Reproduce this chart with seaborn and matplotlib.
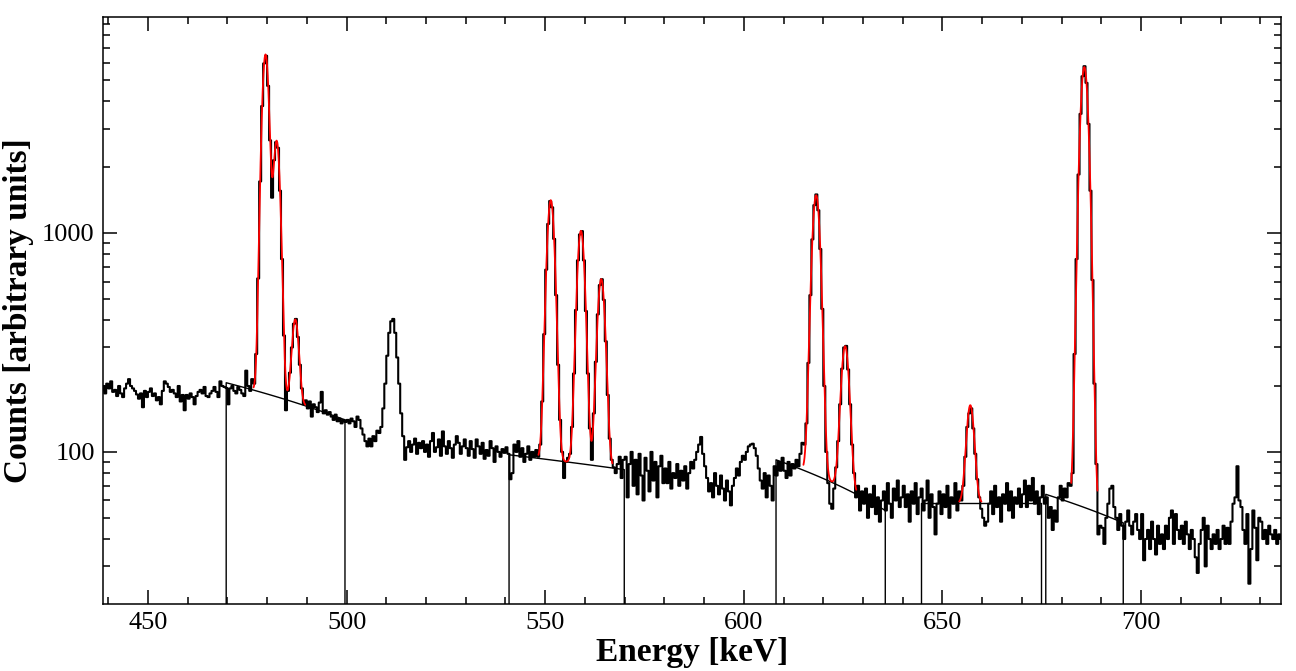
import numpy as np
import pandas as pd
import matplotlib
matplotlib.use("Agg")
import matplotlib.pyplot as plt
import seaborn as sns
from matplotlib.ticker import LogLocator, MultipleLocator, NullFormatter, FuncFormatter

# --- Spectrum: counts per 0.5 keV bin ---
bin_start = 438.0
bin_width = 0.5

counts_438_470 = [
    190, 200, 185, 205,
    195, 210, 188, 192, 180, 200, 185, 178, 195, 205, 215, 200, 195, 190, 183, 175, 185, 160, 190, 178,
    188, 195, 180, 185, 172, 178, 165, 190, 210, 205, 198, 188, 192, 185, 178, 200, 170, 182, 155, 182,
    175, 185, 178, 165, 180, 188, 192, 185, 198, 180, 178, 185, 190, 198, 188, 178, 210, 200, 198, 196,
]
counts_470_500 = [
    165, 195, 200, 190, 185, 198, 192, 185, 180, 235, 200, 190, 215, 205, 280, 620, 1720, 3800, 5950, 6450,
    4700, 2650, 1450, 2150, 2600, 2450, 1560, 760, 340, 155, 190, 230, 300, 385, 405, 335, 250, 195, 165, 172,
    158, 170, 145, 165, 160, 152, 168, 188, 150, 155, 148, 152, 145, 140, 148, 138, 142, 135, 140, 137,
]
counts_500_540 = [
    140, 135, 142, 138, 130, 145, 140, 128, 120, 112, 106, 115, 106, 118, 112, 125, 122, 130, 158, 205,
    275, 350, 395, 405, 350, 270, 205, 150, 118, 92, 105, 112, 100, 108, 115, 98, 110, 104, 112, 100,
    108, 95, 112, 122, 100, 105, 114, 96, 124, 106, 98, 112, 104, 94, 108, 118, 110, 98, 106, 114,
    104, 96, 112, 103, 94, 114, 106, 98, 110, 93, 102, 96, 112, 104, 90, 106, 100, 95, 103, 99,
]
counts_540_570 = [
    105, 98, 75, 80, 108, 100, 112, 95, 104, 90, 98, 106, 92, 100, 95, 102, 95, 108, 170, 345,
    680, 1100, 1400, 1310, 940, 520, 250, 140, 100, 76, 90, 94, 98, 130, 228, 445, 750, 985, 1020, 750,
    440, 228, 128, 92, 150, 258, 425, 578, 615, 495, 320, 182, 115, 92, 85, 80, 88, 95, 76, 92,
]
counts_570_610 = [
    95, 62, 88, 100, 70, 92, 64, 98, 78, 60, 94, 82, 66, 100, 74, 90, 62, 86, 96, 72,
    84, 72, 90, 68, 80, 76, 88, 70, 82, 74, 86, 68, 80, 90, 84, 92, 100, 108, 117, 98,
    86, 76, 66, 72, 62, 80, 70, 64, 78, 68, 60, 74, 66, 57, 70, 76, 84, 78, 90, 96,
    92, 100, 106, 108, 109, 104, 96, 84, 74, 68, 80, 62, 78, 70, 60, 86, 78, 90, 82, 94,
]
counts_610_650 = [
    82, 76, 90, 78, 88, 84, 92, 86, 98, 110, 108, 135, 255, 520, 935, 1340, 1500, 1270, 845, 450,
    200, 100, 72, 58, 55, 68, 85, 112, 165, 240, 300, 305, 238, 165, 108, 80, 62, 70, 54, 66,
    58, 68, 50, 64, 56, 70, 52, 62, 48, 60, 66, 54, 72, 58, 50, 68, 60, 74, 56, 62,
    70, 56, 64, 48, 66, 58, 72, 52, 62, 68, 54, 60, 74, 50, 64, 56, 42, 58, 66, 52,
]
counts_650_680 = [
    64, 56, 70, 50, 62, 58, 72, 54, 66, 60, 70, 95, 130, 150, 158, 128, 98, 75, 62, 55,
    50, 46, 48, 58, 66, 52, 70, 56, 62, 48, 64, 58, 72, 54, 66, 50, 62, 58, 68, 56,
    64, 74, 56, 70, 60, 76, 58, 66, 52, 62, 70, 58, 62, 50, 56, 44, 54, 48, 62, 70,
]
counts_680_700 = [
    60, 68, 62, 72, 70, 80, 280, 760, 1850, 3500, 5200, 5780, 4850, 3150, 1560, 610, 205, 88, 42, 46,
    45, 38, 50, 58, 68, 70, 56, 50, 44, 52, 46, 40, 48, 54, 46, 42, 48, 52, 44, 40,
]
counts_700_736 = [
    52, 32, 40, 44, 36, 48, 40, 34, 46, 38, 42, 36, 46, 40, 50, 54, 38, 52, 44, 40,
    46, 38, 48, 42, 36, 44, 40, 33, 28, 38, 44, 50, 30, 46, 40, 36, 42, 38, 44, 36,
    40, 46, 38, 45, 38, 48, 58, 62, 86, 60, 56, 44, 38, 52, 25, 36, 54, 45, 32, 50,
    48, 40, 44, 38, 46, 42, 40, 44, 38, 42, 40, 42,
]

# --- Fit results: linear background per region + gaussian peaks ---
fit_lo = [469.7, 540.9, 608.1, 644.7, 676.0]
fit_hi = [499.6, 569.9, 635.6, 674.8, 695.5]
bg_at_lo = [207, 97, 92, 58.5, 64]
bg_at_hi = [140, 83, 54, 58.5, 47.4]
curve_lo = [476.6, 548.3, 615.0, 654.2, 682.4]
curve_hi = [489.6, 566.9, 628.3, 659.8, 689.0]

peak_centroids = [479.6, 482.4, 487.1, 551.4, 559.0, 564.1, 618.2, 625.5, 657.0, 685.7]
peak_heights = [6350, 2450, 235, 1320, 935, 530, 1410, 236, 105, 5675]
peak_sigmas = [0.8, 0.8, 0.8, 0.9, 0.9, 0.9, 0.95, 0.95, 0.9, 0.95]
peak_region = [0, 0, 0, 1, 1, 1, 2, 2, 3, 4]


def background(i, e):
    frac = (e - fit_lo[i]) / (fit_hi[i] - fit_lo[i])
    return bg_at_lo[i] + (bg_at_hi[i] - bg_at_lo[i]) * frac


def fit_curve(i, e):
    y = background(i, e)
    for c, h, s, r in zip(peak_centroids, peak_heights, peak_sigmas, peak_region):
        if r == i:
            y = y + h * np.exp(-(e - c) ** 2 / (2 * s ** 2))
    return y


# --- Build spectrum table ---
counts = (counts_438_470 + counts_470_500 + counts_500_540 + counts_540_570 + counts_570_610
          + counts_610_650 + counts_650_680 + counts_680_700 + counts_700_736)
bin_end = bin_start + bin_width * len(counts)
spec = pd.DataFrame({"energy": bin_start + bin_width * (np.arange(len(counts)) + 0.5),
                     "counts": counts})

# --- Style ---
sns.set_theme(style="ticks")
plt.rcParams["font.family"] = ["Liberation Serif", "DejaVu Serif"]
plt.rcParams["axes.linewidth"] = 1.1

fig = plt.figure(figsize=(12.96, 6.71), dpi=100)
ax = fig.add_axes([0.0795, 0.0999, 0.9089, 0.8748])

sns.histplot(data=spec, x="energy", weights="counts", binwidth=bin_width,
             binrange=(bin_start, bin_end), element="step", fill=False,
             color="black", linewidth=1.5, ax=ax)
ax.set_yscale("log")

# background lines, dropping to the bottom at the region edges
for i in range(len(fit_lo)):
    e = np.linspace(fit_lo[i], fit_hi[i], 50)
    xs = np.concatenate([[fit_lo[i]], e, [fit_hi[i]]])
    ys = np.concatenate([[1.0], background(i, e), [1.0]])
    ax.plot(xs, ys, color="black", linewidth=1.0)

# fitted peaks
for i in range(len(fit_lo)):
    e = np.linspace(curve_lo[i], curve_hi[i], 400)
    df = pd.DataFrame({"energy": e, "fit": fit_curve(i, e)})
    sns.lineplot(data=df, x="energy", y="fit", color="red", linewidth=1.3,
                 estimator=None, sort=False, ax=ax)

# --- Axes ---
ax.set_xlim(438.7, 735.2)
ax.set_ylim(20.2, 9700)
ax.xaxis.set_major_locator(MultipleLocator(50))
ax.xaxis.set_minor_locator(MultipleLocator(10))
ax.yaxis.set_major_locator(LogLocator(base=10))
ax.yaxis.set_minor_locator(LogLocator(base=10, subs=np.arange(2, 10)))
ax.yaxis.set_major_formatter(FuncFormatter(lambda v, p: f"{v:.0f}"))
ax.yaxis.set_minor_formatter(NullFormatter())
ax.tick_params(which="both", direction="in", top=True, right=True,
               width=1.1, labelsize=19, color="black", labelcolor="black")
ax.tick_params(which="major", length=10, pad=6)
ax.tick_params(which="minor", length=5)
for s in ax.spines.values():
    s.set_color("black")

ax.set_xlabel("Energy [keV]", fontsize=24, fontweight="bold", labelpad=2, color="black")
ax.set_ylabel("Counts [arbitrary units]", fontsize=24, fontweight="bold", labelpad=6, color="black")

fig.savefig("out.png", dpi=100, facecolor="white")
